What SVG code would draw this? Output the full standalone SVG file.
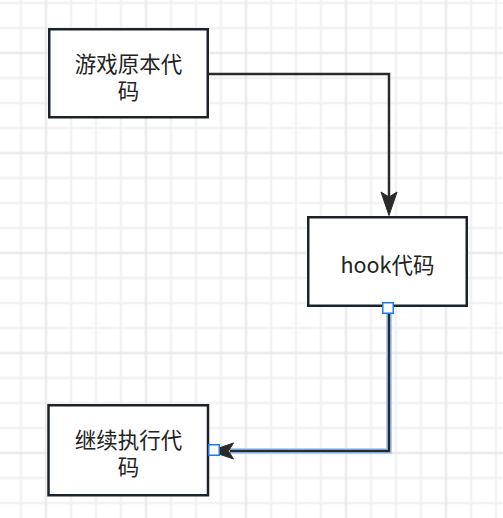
<svg xmlns="http://www.w3.org/2000/svg" width="503" height="518" viewBox="0 0 503 518">
<style>
.node rect{fill:#ffffff;stroke:#1c222b;stroke-width:2.5}
.lbl{font-family:"Noto Sans CJK SC","Noto Sans",sans-serif;font-size:21.5px;fill:#222222;text-anchor:middle;dominant-baseline:central}
.edge{fill:none;stroke:#2a2a2a;stroke-width:2.5}
.glow{fill:none;stroke:#a9d1ff;stroke-width:6}
.head{fill:#2a2a2a;stroke:#2a2a2a;stroke-width:1}
.handle{fill:#ffffff;stroke:#1a7cf0;stroke-width:1.5}
</style>
<defs>
<pattern id="grid" patternUnits="userSpaceOnUse" x="8.5" y="-9.5" width="100" height="100">
<path d="M12.5 0V100M62.5 0V100M87.5 0V100M0 12.5H100M0 37.5H100M0 87.5H100" stroke="#efefef" stroke-width="2" fill="none"/>
<path d="M37.5 0V100M0 62.5H100" stroke="#e5e5e5" stroke-width="2" fill="none"/>
</pattern>
</defs>
<rect x="0" y="0" width="503" height="518" fill="#ffffff"/>
<rect x="0" y="0" width="503" height="518" fill="url(#grid)"/>
<g id="connectors">
<g id="edge1">
<path class="edge" d="M209 74H389V197"/>
<path class="head" d="M389 215.5L381 192L389 197L397 192Z"/>
</g>
<g id="edge2">
<path class="glow" d="M389 307V451H230"/>
<path class="edge" d="M389 307V451H230"/>
<path class="head" d="M210 451L233.5 443L228.5 451L233.5 459Z"/>
</g>
</g>
<g id="node1" class="node">
<rect x="49.25" y="29.25" width="158.5" height="88"/>
<text class="lbl" x="128.5" y="62">游戏原本代<tspan x="128.5" dy="26.5">码</tspan></text>
</g>
<g id="node2" class="node">
<rect x="308.25" y="217.25" width="158.5" height="88.5"/>
<text class="lbl" x="387.5" y="263">hook代码</text>
</g>
<g id="node3" class="node">
<rect x="48.5" y="405.25" width="159.5" height="90"/>
<text class="lbl" x="128.5" y="438">继续执行代<tspan x="128.5" dy="26.5">码</tspan></text>
</g>
<g id="handles">
<rect class="handle" x="382.75" y="302.75" width="10.5" height="10.5"/>
<rect class="handle" x="208.75" y="444.75" width="10.5" height="10.5"/>
</g>
</svg>
